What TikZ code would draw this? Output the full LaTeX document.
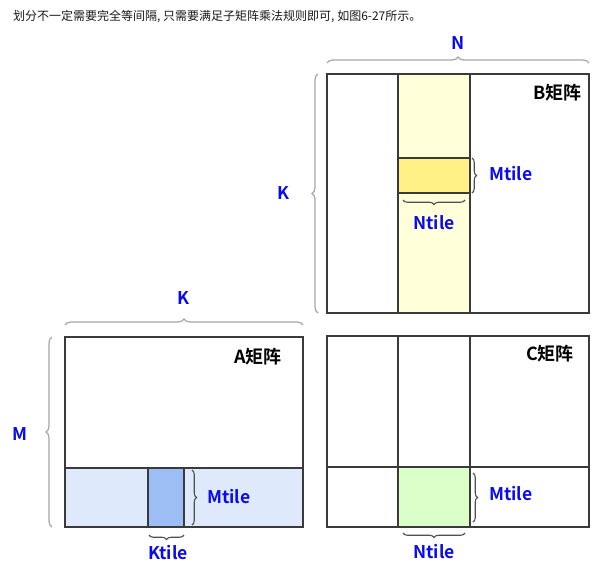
\documentclass[tikz,border=0pt]{standalone}
\usepackage{fontspec}
\setmainfont{Noto Sans CJK SC}
\newfontfamily\cjkb{Noto Sans CJK SC Bold}
\usetikzlibrary{decorations.pathreplacing}
\definecolor{frame}{HTML}{3A3A3A}
\definecolor{ylight}{HTML}{FFFFD9}
\definecolor{ydark}{HTML}{FFF185}
\definecolor{blight}{HTML}{DEEAFB}
\definecolor{bdark}{HTML}{9DBDF5}
\definecolor{glight}{HTML}{DAFFC8}
\definecolor{lblue}{HTML}{0A0AF0}
\definecolor{bigbr}{HTML}{A8A8A8}
\definecolor{smbr}{HTML}{505050}
\tikzset{
  cell/.style={draw=frame, line width=1.4pt},
  bigbrace/.style={draw=bigbr, line width=1.3pt, decorate, decoration={brace, amplitude=6pt}},
  smbrace/.style={draw=smbr, line width=1.1pt, decorate, decoration={brace, amplitude=4.5pt}},
  dimlbl/.style={text=lblue, font=\cjkb\fontsize{17.5}{19}\selectfont, inner sep=0pt},
  matlbl/.style={text=black, font=\cjkb\fontsize{18}{20}\selectfont, inner sep=0pt, anchor=east},
}
\begin{document}
\begin{tikzpicture}[x=1pt,y=-1pt]
\useasboundingbox (0,0) rectangle (609,566);
\fill[white] (0,0) rectangle (609,566);
% caption
\node[anchor=west, inner sep=0pt, text=black!90, font=\fontsize{12}{14}\selectfont] (cap) at (13,17) {划分不一定需要完全等间隔, 只需要满足子矩阵乘法规则即可, 如图6-27所示。};
% B matrix
\fill[ylight] (398,74) rectangle (470,313);
\fill[ydark] (398,158) rectangle (470,193);
\draw[cell] (398,74) -- (398,313) (470,74) -- (470,313);
\draw[cell] (398,158) rectangle (470,193);
\draw[cell] (327,74) rectangle (589,313);
\node[matlbl] (bl) at (582,93) {B矩阵};
% A matrix
\fill[blight] (65,468) rectangle (303,527);
\fill[bdark] (148,468) rectangle (184,527);
\draw[cell] (148,468) -- (148,527) (184,468) -- (184,527) (65,468) -- (303,468);
\draw[cell] (65,337) rectangle (303,527);
\node[matlbl] (al) at (282,357) {A矩阵};
% C matrix
\fill[glight] (398,467) rectangle (470,527);
\draw[cell] (398,336) -- (398,527) (470,336) -- (470,527) (327,467) -- (589,467);
\draw[cell] (327,336) rectangle (589,527);
\node[matlbl] (cl) at (574,354) {C矩阵};
% big braces
\draw[bigbrace] (327,63) -- (589,63);
\draw[bigbrace] (318,313) -- (318,74);
\draw[bigbrace] (65,325) -- (303,325);
\draw[bigbrace] (52,527) -- (52,337);
% small braces
\draw[smbrace] (472,158) -- (472,193);
\draw[smbrace] (465,200) -- (403,200);
\draw[smbrace] (192,470) -- (192,525);
\draw[smbrace] (184,535) -- (149,535);
\draw[smbrace] (473,473) -- (473,522);
\draw[smbrace] (465,533) -- (403,533);
% labels
\node[dimlbl] (n) at (458,43) {N};
\node[dimlbl] (kb) at (283,193) {K};
\node[dimlbl] (ka) at (183,298) {K};
\node[dimlbl] (m) at (20,434) {M};
\node[dimlbl, anchor=west] (mtb) at (489,174) {Mtile};
\node[dimlbl] (ntb) at (434,223) {Ntile};
\node[dimlbl, anchor=west] (mta) at (207,497) {Mtile};
\node[dimlbl] (kta) at (168,553) {Ktile};
\node[dimlbl, anchor=west] (mtc) at (489,494) {Mtile};
\node[dimlbl] (ntc) at (434,552) {Ntile};
\end{tikzpicture}
\end{document}
